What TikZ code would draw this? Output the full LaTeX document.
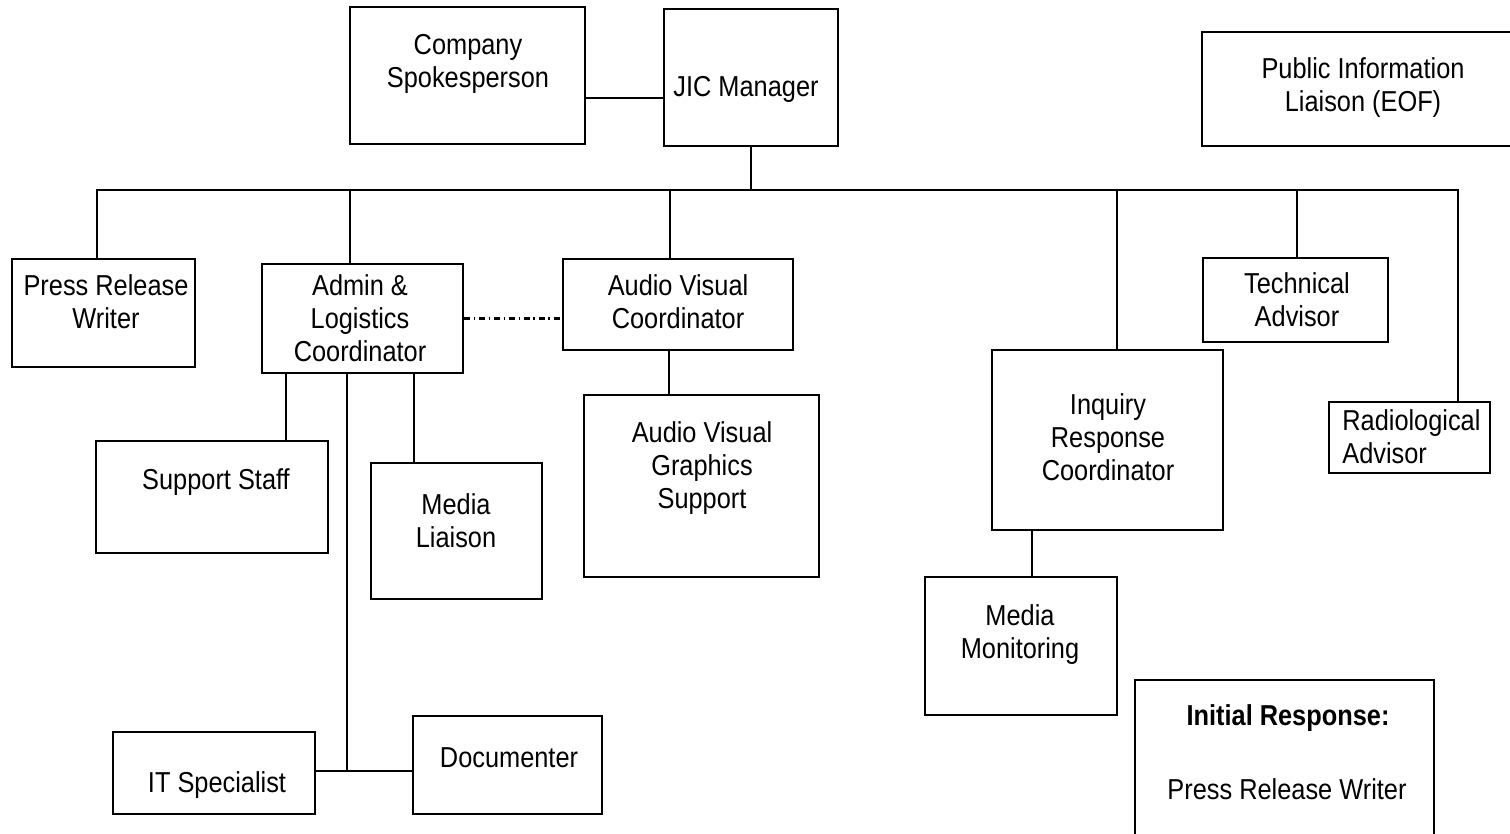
\documentclass[tikz,border=0pt]{standalone}
\usepackage{fontspec}
\setmainfont{Liberation Sans}[FakeStretch=0.88]
\usetikzlibrary{fit}

\begin{document}
\begin{tikzpicture}[x=0.02cm, y=-0.02cm,
  box/.style={draw, line width=0.7pt, inner sep=0pt},
  boxk/.style={box, line width=1.2pt},
  txt/.style={align=center, inner sep=0pt, font=\fontsize{16.4}{18.8}\selectfont},
  link/.style={line width=1.2pt}]
  \useasboundingbox (0,0) rectangle (1510,833);
  % Top row
  \node[box, fit={(350,7) (585,144)}] (comp) {};
  \node[boxk, fit={(664,9) (838,146)}] (jic) {};
  \node[box, fit={(1202,32) (1516,146)}] (pil) {};
  \node[txt] (comp-t) at (468,64) {Company\\Spokesperson};
  \node[txt] (jic-t) at (746,89) {JIC Manager};
  \node[txt] (pil-t) at (1363,88) {Public Information\\Liaison (EOF)};
  % Second row
  \node[box, fit={(12,259) (195,367)}] (prw) {};
  \node[boxk, fit={(262,264) (463,373)}] (admin) {};
  \node[box, fit={(563,259) (793,350)}] (avc) {};
  \node[box, fit={(1203,258) (1388,342)}] (tech) {};
  \node[box, fit={(992,350) (1223,530)}] (irc) {};
  \node[boxk, fit={(1329,402) (1490,473)}] (rad) {};
  \node[txt] (prw-t) at (106,302) {Press Release\\Writer};
  \node[txt] (admin-t) at (360,318) {Admin \&\\Logistics\\Coordinator};
  \node[txt] (avc-t) at (678,302) {Audio Visual\\Coordinator};
  \node[txt] (tech-t) at (1297,300) {Technical\\Advisor};
  \node[txt] (irc-t) at (1108,437) {Inquiry\\Response\\Coordinator};
  \node[txt, align=left, anchor=west] (rad-t) at (1342,437) {Radiological\\Advisor};
  % Lower boxes
  \node[box, fit={(96,441) (328,553)}] (staff) {};
  \node[boxk, fit={(371,463) (542,599)}] (ml) {};
  \node[box, fit={(584,395) (819,577)}] (avgs) {};
  \node[box, fit={(925,577) (1117,715)}] (mm) {};
  \node[boxk, fit={(113,732) (315,814)}] (it) {};
  \node[box, fit={(413,716) (602,814)}] (doc) {};
  \node[boxk, fit={(1135,680) (1434,845)}] (init) {};
  \node[txt] (staff-t) at (216,482) {Support Staff};
  \node[txt] (ml-t) at (456,521) {Media\\Liaison};
  \node[txt] (avgs-t) at (702,468) {Audio Visual\\Graphics\\Support};
  \node[txt] (mm-t) at (1020,635) {Media\\Monitoring};
  \node[txt] (it-t) at (217,785) {IT Specialist};
  \node[txt] (doc-t) at (509,758) {Documenter};
  \node[txt, font=\fontsize{16.4}{18.8}\selectfont\bfseries] (init-h) at (1288,718) {Initial Response:};
  \node[txt] (init-t) at (1287,789) {Press Release Writer};
  % Connectors
  \draw[link] (comp.east |- 0,98) -- (jic.west |- 0,98);
  \coordinate (busL) at (97,190);
  \coordinate (busR) at (1458,190);
  \draw[link] (prw.north -| busL) -- (busL) -- (busR) -- (rad.north -| busR);
  \draw[link] (jic.south) -- (jic.south |- busL);
  \foreach \x/\n in {350/admin, 670/avc, 1117/irc, 1297/tech}
    \draw[link] (\x,190) -- (\n.north -| \x,190);
  \draw[link, line width=1.4pt, dash pattern=on 3.5pt off 2pt on 1pt off 2pt] (admin.east) -- (admin.east -| avc.west);
  \draw[link] (avc.south -| 669,0) -- (avgs.north -| 669,0);
  \draw[link] (admin.south -| 286,0) -- (staff.north -| 286,0);
  \draw[link] (admin.south -| 414,0) -- (ml.north -| 414,0);
  \coordinate (spine) at (347,771);
  \draw[link] (admin.south -| spine) -- (spine);
  \draw[link] (it.east |- spine) -- (doc.west |- spine);
  \draw[link] (irc.south -| 1032,0) -- (mm.north -| 1032,0);
\end{tikzpicture}
\end{document}
